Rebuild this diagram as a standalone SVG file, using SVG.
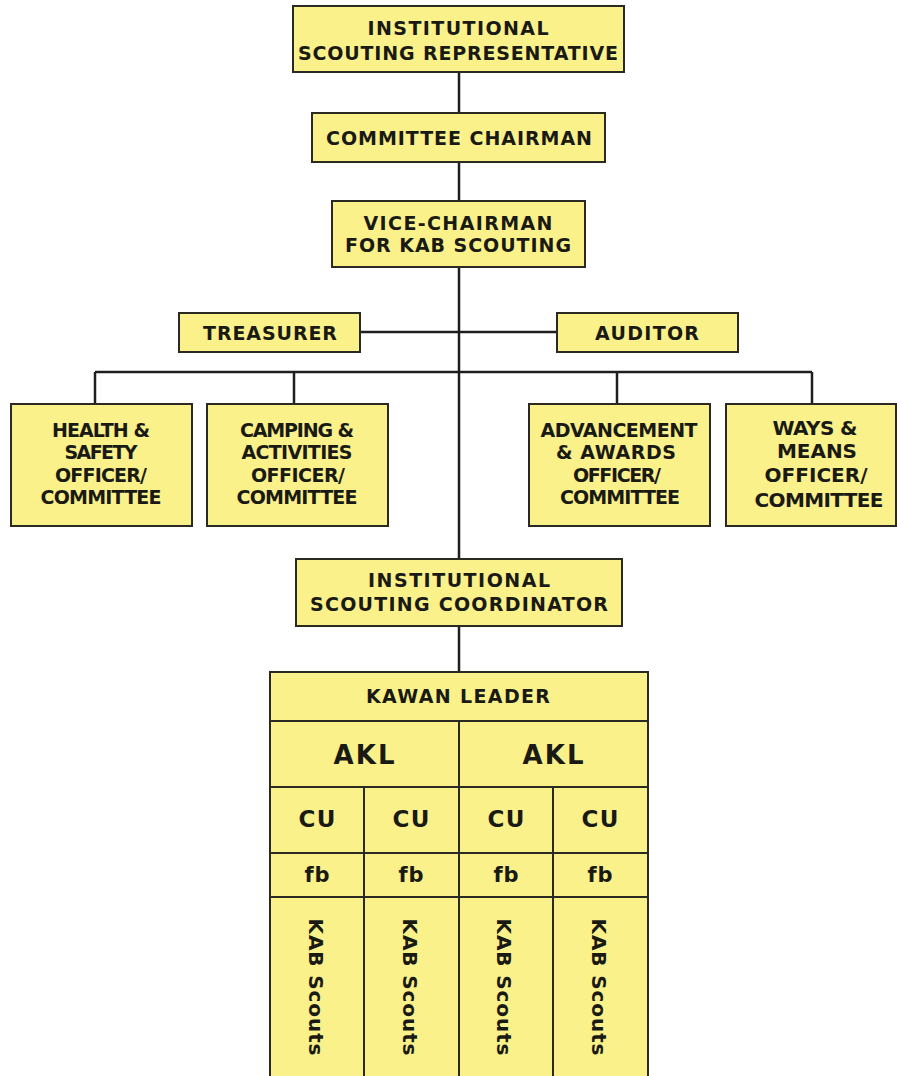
<svg xmlns="http://www.w3.org/2000/svg" width="897" height="1076" viewBox="0 0 897 1076">
<style>
.box{fill:#FAF18A;stroke:#2a2a22;stroke-width:2}
.ln{stroke:#1e1e1e;stroke-width:2.5;fill:none}
.t{font-family:"DejaVu Sans",Lato,sans-serif;font-weight:700;font-size:19px;fill:#1a1a14;text-anchor:middle}
.w{font-size:20px}
.big{font-size:26px}
.cu{font-size:23px}
.fb{font-size:21px}
.ks{font-size:20px}
</style>
<rect width="897" height="1076" fill="#ffffff"/>
<g id="connectors">
<line class="ln" x1="459" y1="72" x2="459" y2="113"/>
<line class="ln" x1="459" y1="162" x2="459" y2="201"/>
<line class="ln" x1="459" y1="267" x2="459" y2="559"/>
<line class="ln" x1="459" y1="626" x2="459" y2="672"/>
<line class="ln" x1="360" y1="332" x2="557" y2="332"/>
<line class="ln" x1="95" y1="372" x2="812" y2="372"/>
<line class="ln" x1="95" y1="372" x2="95" y2="404"/>
<line class="ln" x1="294" y1="372" x2="294" y2="404"/>
<line class="ln" x1="617" y1="372" x2="617" y2="404"/>
<line class="ln" x1="812" y1="372" x2="812" y2="404"/>
</g>
<g id="isr">
<rect class="box" x="293" y="6" width="331" height="66"/>
<text class="t" x="458" y="35" textLength="181">INSTITUTIONAL</text>
<text class="t" x="458" y="60" textLength="320">SCOUTING REPRESENTATIVE</text>
</g>
<g id="chairman">
<rect class="box" x="312" y="113" width="293" height="49"/>
<text class="t" x="459" y="145" textLength="266">COMMITTEE CHAIRMAN</text>
</g>
<g id="vice">
<rect class="box" x="332" y="201" width="253" height="66"/>
<text class="t" x="458" y="230" textLength="189">VICE-CHAIRMAN</text>
<text class="t" x="458" y="252" textLength="226">FOR KAB SCOUTING</text>
</g>
<g id="treasurer">
<rect class="box" x="179" y="313" width="181" height="39"/>
<text class="t" x="270" y="340" textLength="134">TREASURER</text>
</g>
<g id="auditor">
<rect class="box" x="557" y="313" width="181" height="39"/>
<text class="t" x="647" y="340" textLength="104">AUDITOR</text>
</g>
<g id="health">
<rect class="box" x="11" y="404" width="181" height="122"/>
<text class="t" x="101" y="437" textLength="98">HEALTH &amp;</text>
<text class="t" x="101" y="459" textLength="73">SAFETY</text>
<text class="t" x="101" y="482" textLength="92">OFFICER/</text>
<text class="t" x="101" y="504" textLength="121">COMMITTEE</text>
</g>
<g id="camping">
<rect class="box" x="207" y="404" width="181" height="122"/>
<text class="t" x="297" y="437" textLength="114">CAMPING &amp;</text>
<text class="t" x="297" y="459" textLength="111">ACTIVITIES</text>
<text class="t" x="298" y="482" textLength="94">OFFICER/</text>
<text class="t" x="297" y="504" textLength="121">COMMITTEE</text>
</g>
<g id="advancement">
<rect class="box" x="529" y="404" width="181" height="122"/>
<text class="t" x="619" y="437" textLength="157">ADVANCEMENT</text>
<text class="t" x="616" y="459" textLength="120">&amp; AWARDS</text>
<text class="t" x="617" y="482" textLength="88">OFFICER/</text>
<text class="t" x="620" y="504" textLength="120">COMMITTEE</text>
</g>
<g id="ways">
<rect class="box" x="726" y="404" width="170" height="122"/>
<text class="t w" x="815" y="435" textLength="85">WAYS &amp;</text>
<text class="t w" x="817" y="458" textLength="80">MEANS</text>
<text class="t w" x="816" y="482" textLength="103">OFFICER/</text>
<text class="t w" x="819" y="507" textLength="129">COMMITTEE</text>
</g>
<g id="coordinator">
<rect class="box" x="296" y="559" width="326" height="67"/>
<text class="t" x="459" y="587" textLength="182">INSTITUTIONAL</text>
<text class="t" x="459" y="611" textLength="298">SCOUTING COORDINATOR</text>
</g>
<g id="kawan-leader">
<rect class="box" x="270" y="672" width="378" height="49"/>
<text class="t" x="458" y="703" textLength="184">KAWAN LEADER</text>
</g>
<g id="akl-1">
<rect class="box" x="270" y="721" width="189" height="66"/>
<text class="t big" x="364" y="764" textLength="61">AKL</text>
</g>
<g id="akl-2">
<rect class="box" x="459" y="721" width="189" height="66"/>
<text class="t big" x="553" y="764" textLength="61">AKL</text>
</g>
<g id="cu-1">
<rect class="box" x="270" y="787" width="94" height="66"/>
<text class="t cu" x="317" y="827" textLength="37">CU</text>
</g>
<g id="cu-2">
<rect class="box" x="364" y="787" width="95" height="66"/>
<text class="t cu" x="411" y="827" textLength="37">CU</text>
</g>
<g id="cu-3">
<rect class="box" x="459" y="787" width="94" height="66"/>
<text class="t cu" x="506" y="827" textLength="37">CU</text>
</g>
<g id="cu-4">
<rect class="box" x="553" y="787" width="95" height="66"/>
<text class="t cu" x="600" y="827" textLength="37">CU</text>
</g>
<g id="fb-1">
<rect class="box" x="270" y="853" width="94" height="44"/>
<text class="t fb" x="317" y="882" textLength="25">fb</text>
</g>
<g id="fb-2">
<rect class="box" x="364" y="853" width="95" height="44"/>
<text class="t fb" x="411" y="882" textLength="25">fb</text>
</g>
<g id="fb-3">
<rect class="box" x="459" y="853" width="94" height="44"/>
<text class="t fb" x="506" y="882" textLength="25">fb</text>
</g>
<g id="fb-4">
<rect class="box" x="553" y="853" width="95" height="44"/>
<text class="t fb" x="600" y="882" textLength="25">fb</text>
</g>
<g id="scouts-1">
<rect class="box" x="270" y="897" width="94" height="190"/>
<text class="t ks" x="309" y="987" textLength="137" transform="rotate(90 309 987)">KAB Scouts</text>
</g>
<g id="scouts-2">
<rect class="box" x="364" y="897" width="95" height="190"/>
<text class="t ks" x="403" y="987" textLength="137" transform="rotate(90 403 987)">KAB Scouts</text>
</g>
<g id="scouts-3">
<rect class="box" x="459" y="897" width="94" height="190"/>
<text class="t ks" x="497" y="987" textLength="137" transform="rotate(90 497 987)">KAB Scouts</text>
</g>
<g id="scouts-4">
<rect class="box" x="553" y="897" width="95" height="190"/>
<text class="t ks" x="592" y="987" textLength="137" transform="rotate(90 592 987)">KAB Scouts</text>
</g>
</svg>
